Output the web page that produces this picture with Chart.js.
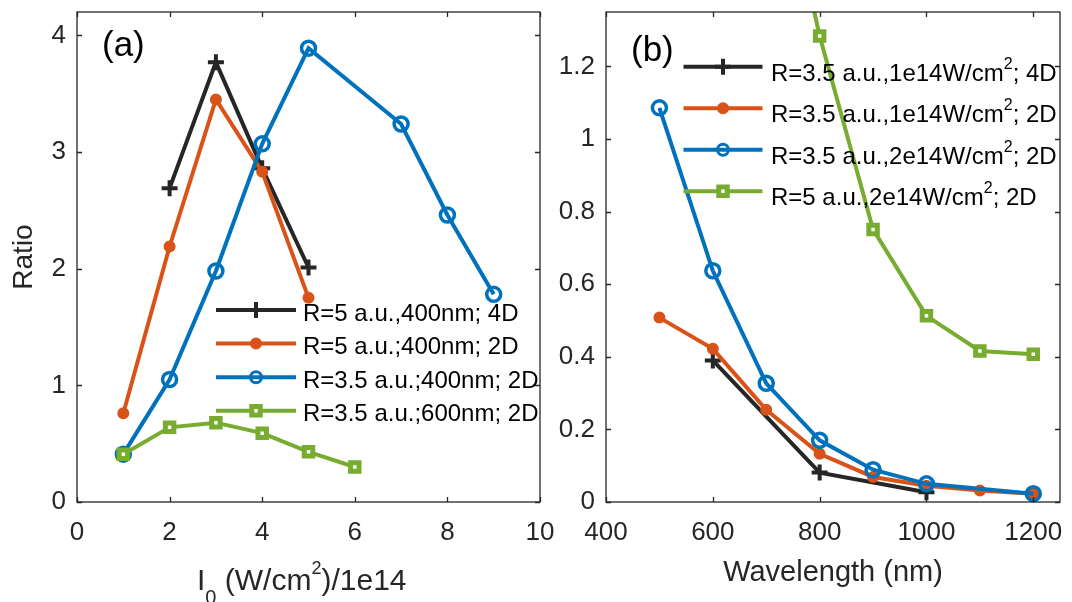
<!DOCTYPE html>
<html>
<head>
<meta charset="utf-8">
<script src="https://cdn.jsdelivr.net/npm/chart.js@4.4.1/dist/chart.umd.min.js"></script>
<style>
  html, body { margin: 0; padding: 0; background: #fff; }
  #wrap { position: relative; width: 1072px; height: 602px; overflow: hidden; }
  #chartA { position: absolute; left: 0; top: 0; }
  #chartB { position: absolute; left: 556px; top: 0; }
</style>
</head>
<body>
<div id="wrap">
  <canvas id="chartA" width="556" height="602"></canvas>
  <canvas id="chartB" width="516" height="602"></canvas>
</div>
<script>
// ---------- data, panel (a): ratio vs peak intensity (units of 1e14 W/cm^2) ----------
const intensR5_4D = [2, 3, 4, 5];
const ratioR5_4D = [2.69, 3.77, 2.86, 2.01];
const intensR5_2D = [1, 2, 3, 4, 5];
const ratioR5_2D = [0.76, 2.19, 3.45, 2.83, 1.75];
const intensR35_400 = [1, 2, 3, 4, 5, 7, 8, 9];
const ratioR35_400 = [0.41, 1.05, 1.98, 3.07, 3.89, 3.24, 2.46, 1.78];
const intensR35_600 = [1, 2, 3, 4, 5, 6];
const ratioR35_600 = [0.41, 0.64, 0.68, 0.59, 0.43, 0.30];
const labelsA = ['R=5 a.u.,400nm; 4D', 'R=5 a.u.;400nm; 2D', 'R=3.5 a.u.;400nm; 2D', 'R=3.5 a.u.;600nm; 2D'];
const xTicksA = [0, 2, 4, 6, 8, 10];
const xTickLabelsA = ['0', '2', '4', '6', '8', '10'];
const yTicksA = [0, 1, 2, 3, 4];
const yTickLabelsA = ['0', '1', '2', '3', '4'];

// ---------- data, panel (b): ratio vs wavelength ----------
const wlR35_1e14_4D = [600, 800, 1000];
const ratioR35_1e14_4D = [0.39, 0.081, 0.027];
const wlR35_1e14_2D = [500, 600, 700, 800, 900, 1000, 1100, 1200];
const ratioR35_1e14_2D = [0.508, 0.422, 0.254, 0.133, 0.069, 0.045, 0.032, 0.023];
const wlR35_2e14_2D = [500, 600, 700, 800, 900, 1000, 1200];
const ratioR35_2e14_2D = [1.086, 0.637, 0.327, 0.17, 0.089, 0.05, 0.023];
const wlR5_2e14_2D = [700, 800, 900, 1000, 1100, 1200];
const ratioR5_2e14_2D = [1.95, 1.284, 0.751, 0.513, 0.416, 0.407];
const labelsB = ['R=3.5 a.u.,1e14W/cm^2; 4D', 'R=3.5 a.u.,1e14W/cm^2; 2D', 'R=3.5 a.u.,2e14W/cm^2; 2D', 'R=5 a.u.,2e14W/cm^2; 2D'];
const xTicksB = [400, 600, 800, 1000, 1200];
const xTickLabelsB = ['400', '600', '800', '1000', '1200'];
const yTicksB = [0, 0.2, 0.4, 0.6, 0.8, 1, 1.2];
const yTickLabelsB = ['0', '0.2', '0.4', '0.6', '0.8', '1', '1.2'];

// ---------- styles ----------
const FONT = "'Liberation Sans', Arial, Helvetica, sans-serif";
const AXIS = '#262626';
const BLACK = '#262626', ORANGE = '#D95319', BLUE = '#0072BD', GREEN = '#77AC30';

const markers = {
  cross:  { pointStyle: 'cross',  radius: 8,   border: 4,   fill: null },
  dot:    { pointStyle: 'circle', radius: 5,   border: 2,   fill: 'self' },
  circle: { pointStyle: 'circle', radius: 7,   border: 3.5, fill: null },
  square: { pointStyle: 'rect',   radius: 6,   border: 5,   fill: '#ffffff' }
};

function series(xs, ys, color, mk, order) {
  const m = markers[mk];
  const bg = m.fill === 'self' ? color : (m.fill || 'rgba(0,0,0,0)');
  return {
    data: xs.map((x, i) => ({ x: x, y: ys[i] })),
    borderColor: color,
    backgroundColor: color,
    borderWidth: 4,
    pointStyle: m.pointStyle,
    pointRadius: m.radius,
    pointHoverRadius: m.radius,
    pointBorderWidth: m.border,
    pointBorderColor: color,
    pointBackgroundColor: bg,
    tension: 0,
    fill: false,
    order: order,
    clip: { left: 12, right: 12, top: 0, bottom: 12 },
    marker: mk
  };
}

// text with ^n superscripts
function drawRich(ctx, parts, x, baseline) {
  parts.forEach(p => {
    ctx.font = p.size + 'px ' + FONT;
    ctx.fillText(p.text, x, baseline + (p.dy || 0));
    x += ctx.measureText(p.text).width;
  });
}

function splitLabel(label, size, supSize, supRise) {
  return label.split(/(\^\d)/).filter(s => s).map(s =>
    s[0] === '^' ? { text: s.slice(1), size: supSize, dy: -supRise } : { text: s, size: size });
}

// MATLAB-like box, inward ticks, legend and panel tag
const matlabAxes = {
  id: 'matlabAxes',
  afterDatasetsDraw(chart, args, opts) {
    const ctx = chart.ctx;
    const a = chart.chartArea;
    const xs = chart.scales.x, ys = chart.scales.y;
    ctx.save();
    ctx.strokeStyle = AXIS;
    ctx.lineWidth = 1.3;
    ctx.strokeRect(a.left, a.top, a.right - a.left, a.bottom - a.top);
    ctx.beginPath();
    xs.ticks.forEach(t => {
      const px = Math.round(xs.getPixelForValue(t.value)) + 0.5;
      ctx.moveTo(px, a.bottom); ctx.lineTo(px, a.bottom - 5);
      ctx.moveTo(px, a.top); ctx.lineTo(px, a.top + 5);
    });
    ys.ticks.forEach(t => {
      const py = Math.round(ys.getPixelForValue(t.value)) + 0.5;
      ctx.moveTo(a.left, py); ctx.lineTo(a.left + 5, py);
      ctx.moveTo(a.right, py); ctx.lineTo(a.right - 5, py);
    });
    ctx.stroke();

    // legend (markers a bit smaller than in the plot, as in the original)
    const lg = opts.legend;
    chart.data.datasets.forEach((ds, i) => {
      const y = lg.y0 + i * lg.dy;
      const m = markers[ds.marker];
      ctx.strokeStyle = ds.borderColor;
      ctx.lineWidth = ds.borderWidth;
      ctx.beginPath();
      ctx.moveTo(lg.x0, y); ctx.lineTo(lg.x1, y);
      ctx.stroke();
      const r = ds.marker === 'circle' ? 5.5 : m.radius;
      ctx.lineWidth = ds.marker === 'circle' ? 3 : m.border;
      ctx.fillStyle = ds.pointBackgroundColor;
      Chart.helpers.drawPoint(ctx, { pointStyle: m.pointStyle, radius: r, borderWidth: m.border, rotation: 0 },
        (lg.x0 + lg.x1) / 2, y);
      ctx.fillStyle = '#000';
      ctx.textAlign = 'left';
      ctx.textBaseline = 'alphabetic';
      drawRich(ctx, splitLabel(lg.labels[i], 24, lg.supSize, lg.supRise), lg.textX, y + lg.textDy);
    });

    // panel tag
    ctx.fillStyle = '#000';
    ctx.font = '35px ' + FONT;
    ctx.fillText(opts.tag.text, opts.tag.x, opts.tag.y);

    // axis title with sub/superscript
    if (opts.richTitle) {
      ctx.fillStyle = AXIS;
      drawRich(ctx, opts.richTitle.parts, opts.richTitle.x, opts.richTitle.y);
    }
    ctx.restore();
  }
};

function linearAxis(min, max, ticks, labels, size, title) {
  return {
    type: 'linear',
    min: min,
    max: max,
    grid: { display: false, drawTicks: false, tickLength: 0 },
    border: { display: false },
    ticks: {
      autoSkip: false,
      maxRotation: 0,
      color: AXIS,
      font: { family: FONT, size: 26 },
      callback: (v, i) => labels[i]
    },
    afterBuildTicks: s => { s.ticks = ticks.map(v => ({ value: v })); },
    title: title || { display: false },
    _size: size
  };
}

function panelOptions(xAxis, yAxis, padRight, plugin) {
  xAxis.ticks.padding = 15;
  yAxis.ticks.padding = 11;
  xAxis.afterFit = s => { s.height = 100; s.paddingLeft = 0; s.paddingRight = 0; s.paddingTop = 0; s.paddingBottom = 0; };
  yAxis.afterFit = s => { s.width = yAxis._size; s.paddingLeft = 0; s.paddingRight = 0; s.paddingTop = 0; s.paddingBottom = 0; };
  return {
    responsive: false,
    animation: false,
    events: [],
    layout: { padding: { top: 12, right: padRight, bottom: 0, left: 0 } },
    plugins: { legend: { display: false }, tooltip: { enabled: false }, matlabAxes: plugin },
    scales: { x: xAxis, y: yAxis }
  };
}

// ---------- panel (a) ----------
new Chart(document.getElementById('chartA'), {
  type: 'line',
  data: {
    datasets: [
      series(intensR5_4D, ratioR5_4D, BLACK, 'cross', 3),
      series(intensR5_2D, ratioR5_2D, ORANGE, 'dot', 2),
      series(intensR35_400, ratioR35_400, BLUE, 'circle', 1),
      series(intensR35_600, ratioR35_600, GREEN, 'square', 0)
    ]
  },
  options: panelOptions(
    linearAxis(0, 10, xTicksA, xTickLabelsA, 100),
    linearAxis(0, 4.2, yTicksA, yTickLabelsA, 77,
      { display: true, text: 'Ratio', color: AXIS, font: { family: FONT, size: 28 }, padding: { top: 7, bottom: 0 } }),
    16,
    {
      legend: { labels: labelsA, x0: 216, x1: 296, textX: 303, y0: 310, dy: 33.6, textDy: 10.6, supSize: 15, supRise: 12 },
      tag: { text: '(a)', x: 102, y: 55.5 },
      richTitle: {
        x: 197, y: 590,
        parts: [
          { text: 'I', size: 30 },
          { text: '0', size: 20, dy: 14 },
          { text: ' (W/cm', size: 30 },
          { text: '2', size: 18, dy: -16.5 },
          { text: ')/1e14', size: 30 }
        ]
      }
    }
  ),
  plugins: [matlabAxes]
});

// ---------- panel (b) ----------
new Chart(document.getElementById('chartB'), {
  type: 'line',
  data: {
    datasets: [
      series(wlR35_1e14_4D, ratioR35_1e14_4D, BLACK, 'cross', 3),
      series(wlR35_1e14_2D, ratioR35_1e14_2D, ORANGE, 'dot', 2),
      series(wlR35_2e14_2D, ratioR35_2e14_2D, BLUE, 'circle', 1),
      series(wlR5_2e14_2D, ratioR5_2e14_2D, GREEN, 'square', 0)
    ]
  },
  options: panelOptions(
    linearAxis(400, 1250, xTicksB, xTickLabelsB, 100,
      { display: true, text: 'Wavelength (nm)', color: AXIS, font: { family: FONT, size: 29 }, padding: { top: 0, bottom: 12 } }),
    linearAxis(0, 1.35, yTicksB, yTickLabelsB, 50),
    5,
    {
      legend: { labels: labelsB, x0: 127.5, x1: 206.5, textX: 215, y0: 66.7, dy: 41.5, textDy: 13.8, supSize: 16, supRise: 12 },
      tag: { text: '(b)', x: 75, y: 60.5 }
    }
  ),
  plugins: [matlabAxes]
});
</script>
</body>
</html>
